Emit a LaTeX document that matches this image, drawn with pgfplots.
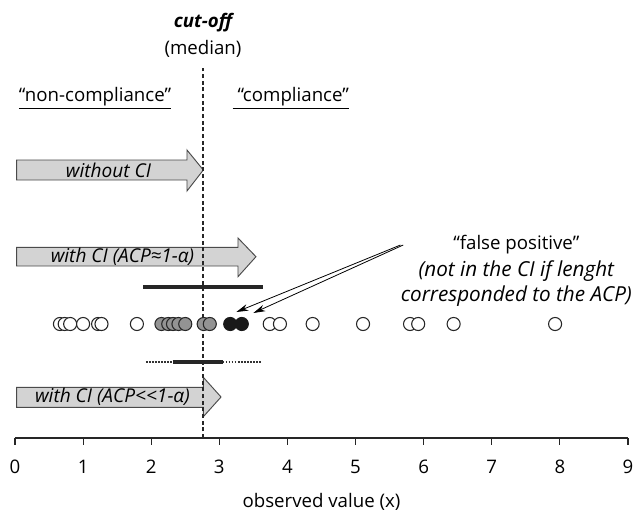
\documentclass[border=0pt]{standalone}
\usepackage{fontspec}
\setmainfont{Open Sans}
\usepackage{pgfplots}
\pgfplotsset{compat=1.18}
\usetikzlibrary{arrows.meta}
\definecolor{arrowfill}{HTML}{D3D3D3}
\definecolor{arrowline}{HTML}{4A4A4A}
\definecolor{greycirc}{HTML}{939393}
\begin{document}
\begin{tikzpicture}[font=\fontsize{14}{16}\selectfont]
\path[use as bounding box] (-11.25pt,-55.5pt) rectangle (468.75pt,328.5pt);
\begin{axis}[
  scale only axis, width=459.75pt, height=328.5pt,
  xmin=0, xmax=9, ymin=0, ymax=438,
  axis x line=bottom, axis y line=none,
  x axis line style={-},
  axis line style={line width=0.9pt, black!85},
  xtick={0,...,9}, ytick=\empty,
  tick align=outside, major tick length=5pt,
  tick style={line width=0.9pt, black!85},
  /pgf/number format/assume math mode=true,
  xticklabel style={font=\fontsize{14}{16}\selectfont, yshift=-8pt},
  xlabel={observed value (x)},
  xlabel style={font=\fontsize{14}{16}\selectfont, yshift=-8pt},
  clip=false,
]
% block arrows
\addplot[fill=arrowfill, draw=arrowline, line width=0.7pt] coordinates
  {(0.025,278) (2.525,278) (2.525,288) (2.765,268) (2.525,247) (2.525,258) (0.025,258)} -- cycle;
\addplot[fill=arrowfill, draw=arrowline, line width=0.7pt] coordinates
  {(0.025,190.7) (3.274,190.7) (3.274,200) (3.538,181.3) (3.274,161.3) (3.274,172) (0.025,172)} -- cycle;
\addplot[fill=arrowfill, draw=arrowline, line width=0.7pt] coordinates
  {(0.025,50.7) (2.765,50.7) (2.765,60.7) (3.025,41) (2.765,21.3) (2.765,30.7) (0.025,30.7)} -- cycle;
\node[font=\fontsize{14.3}{16}\selectfont\itshape] at (axis cs:1.373,268) {without CI};
\node[font=\fontsize{14.3}{16}\selectfont\itshape] at (axis cs:1.578,181) {with CI (ACP≈1-α)};
\node[font=\fontsize{14.3}{16}\selectfont\itshape] at (axis cs:1.43,41) {with CI (ACP<{}<1-α)};
% CI lines
\addplot[line width=3pt, black!85] coordinates {(1.884,151) (3.646,151)};
\addplot[line width=1.3pt, black!80, dash pattern=on 1.3pt off 1pt] coordinates {(1.92,76) (3.62,76)};
\addplot[line width=2.6pt, black!85] coordinates {(2.315,76) (3.05,76)};
% observations
\addplot[only marks, mark=*, mark size=4.9pt, mark options={fill=white, draw=black!85, line width=0.8pt}]
  coordinates {(0.66,114) (0.73,114) (0.81,114) (1.00,114) (1.22,114) (1.27,114) (1.79,114)};
\addplot[only marks, mark=*, mark size=4.9pt, mark options={fill=greycirc, draw=black!85, line width=0.8pt}]
  coordinates {(2.15,114) (2.25,114) (2.32,114) (2.40,114) (2.50,114) (2.77,114) (2.86,114)};
\addplot[only marks, mark=*, mark size=4.9pt, mark options={fill=black!90, draw=black!90, line width=0.8pt}]
  coordinates {(3.16,114) (3.33,114)};
\addplot[only marks, mark=*, mark size=4.9pt, mark options={fill=white, draw=black!85, line width=0.8pt}]
  coordinates {(3.74,114) (3.89,114) (4.37,114) (5.11,114) (5.80,114) (5.92,114) (6.44,114) (7.93,114)};
% cut-off line
\addplot[line width=0.8pt, black!85, dash pattern=on 3pt off 2pt] coordinates {(2.76,0) (2.76,370)};
\node[font=\fontsize{14}{16}\selectfont\bfseries\itshape] at (axis cs:2.76,415) {cut-off};
\node[font=\fontsize{14}{16}\selectfont] at (axis cs:2.76,389) {(median)};
\node[font=\fontsize{14}{16}\selectfont] at (axis cs:1.175,340) {\underline{“non-compliance”}};
\node[font=\fontsize{14}{16}\selectfont] at (axis cs:4.05,340) {\underline{\ “compliance”}};
% false positive annotation
\addplot[-{Stealth[length=9pt,width=5pt]}, line width=0.6pt, black] coordinates {(5.66,193) (3.25,126)};
\addplot[-{Stealth[length=9pt,width=5pt]}, line width=0.6pt, black] coordinates {(5.70,193) (3.50,125)};
\node[font=\fontsize{14}{16}\selectfont] at (axis cs:7.36,193) {“false positive”};
\node[font=\fontsize{15.5}{19}\selectfont\itshape, align=center] at (axis cs:7.36,154.5) {(not in the CI if lenght\\corresponded to the ACP)};
\end{axis}
\end{tikzpicture}
\end{document}
